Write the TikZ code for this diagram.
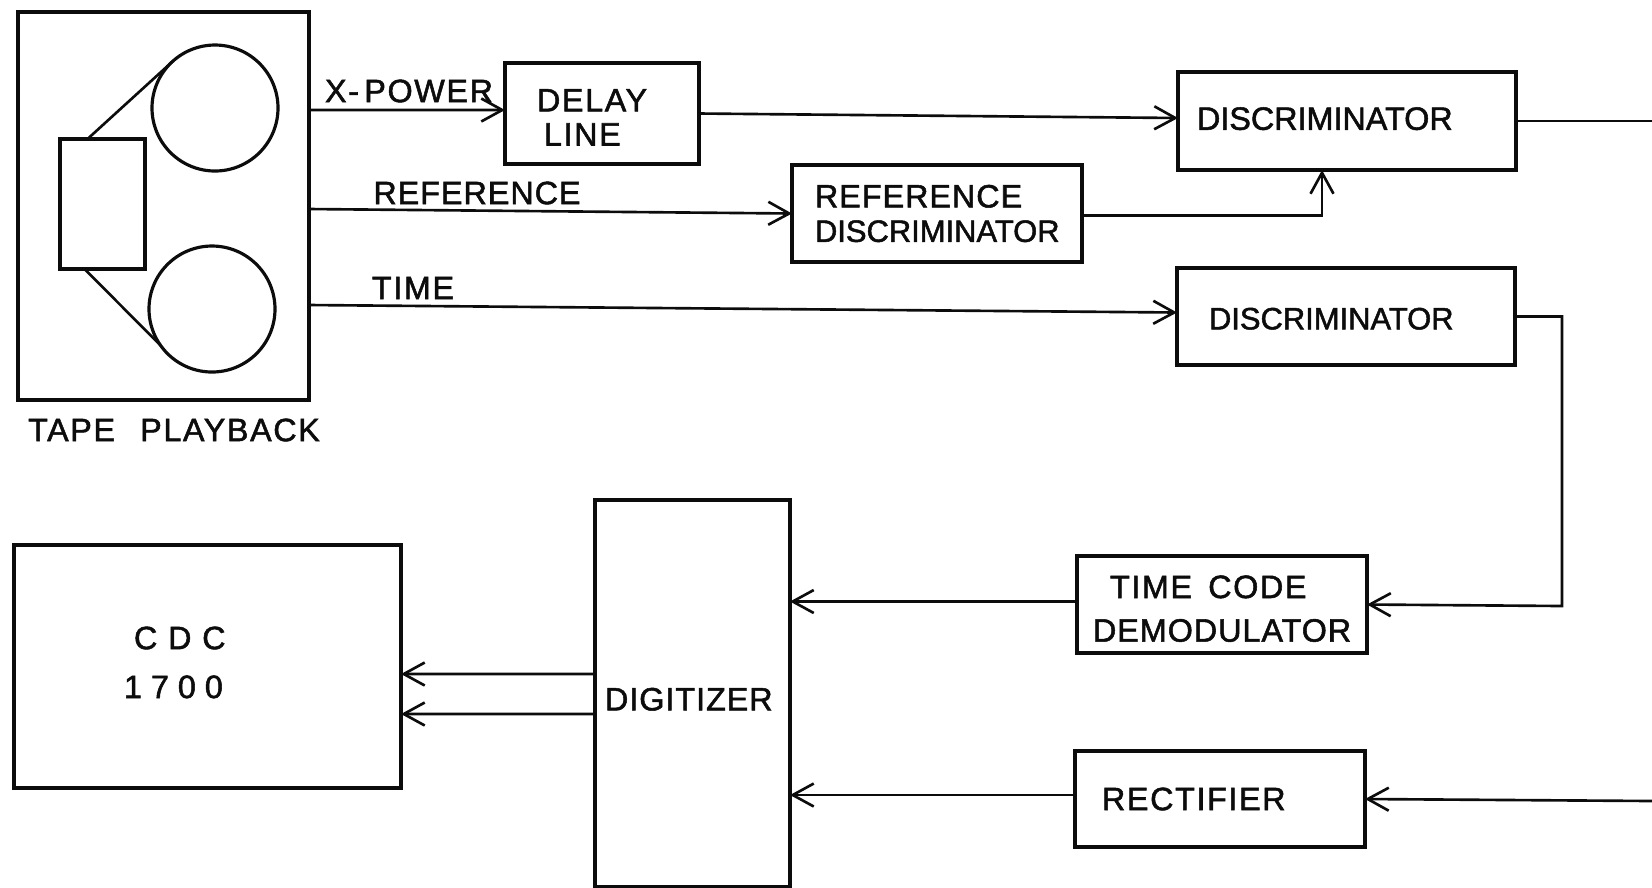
\documentclass[tikz,border=0pt]{standalone}
\usepackage{fontspec}
\setmainfont{Liberation Sans}[RawFeature={embolden=1.6}]
\newfontfamily\widefont{Liberation Sans}[LetterSpace=5,RawFeature={embolden=1.6}]
\newfontfamily\midfont{Liberation Sans}[LetterSpace=3,RawFeature={embolden=1.6}]
\usepackage{xcolor}
\usetikzlibrary{arrows.meta}
\newcommand{\lowr}[1]{\rule{0pt}{#1}}
\definecolor{inkline}{RGB}{12,12,12}

\begin{document}
\begin{tikzpicture}[x=0.1mm,y=-0.1mm,font=\fontsize{9.2}{11}\selectfont,
   blockb/.style={draw=inkline,line width=0.9pt,outer sep=0pt,inner ysep=0pt,align=left,text=inkline},
   reelb/.style={draw=inkline,line width=0.9pt,circle,outer sep=0pt,inner sep=0pt},
   lab/.style={inner sep=0pt,text=inkline},
   ln/.style={inkline,line width=0.75pt},
   ar/.style={ln,-{Straight Barb[length=2.1mm,width=2.3mm,line width=0.75pt]}}]
\useasboundingbox (0,0) rectangle (1652,887);

% tape playback
\node[blockb,minimum width=2.91cm,minimum height=3.88cm] (tape) at (163.5,206) {};
\node[blockb,minimum width=0.85cm,minimum height=1.3cm] (gate) at (102.5,204) {};
\node[reelb,minimum size=1.26cm] (reela) at (215,108) {};
\node[reelb,minimum size=1.26cm] (reelb) at (212,309) {};
\draw[ln] ([xshift=-1.5mm]gate.north) -- (reela.132);
\draw[ln] ([xshift=-1.8mm]gate.south) -- (reelb.215);
\node[lab,font=\fontsize{9.2}{11}\widefont] (tapelab) at (174,430) {TAPE\;\enspace PLAYBACK};

% upper row
\node[blockb,minimum width=1.94cm,minimum height=1.01cm,text width=1.3cm,inner xsep=3.2mm] (delay) at (602,113.5)
   {\lowr{8.5pt}\widefont DELAY\\[-1.3pt]\hspace*{0.7mm}LINE};
\node[blockb,minimum width=2.9cm,minimum height=0.97cm,text width=2.44cm,inner xsep=2.3mm] (refdisc) at (937,213.5)
   {{\midfont REFERENCE}\\[-1.2pt]{\fontsize{8.8}{11}\selectfont DISCRIMINATOR}};
\node[blockb,minimum width=3.38cm,minimum height=0.98cm,text width=3.0cm,inner xsep=1.9mm] (disca) at (1347,121)
   {\raisebox{0.5mm}{DISCRIMINATOR}};
\node[blockb,minimum width=3.38cm,minimum height=0.97cm,text width=2.74cm,inner xsep=3.2mm] (discb) at (1346,316.5)
   {\lowr{7.4pt}\fontsize{8.8}{11}\selectfont DISCRIMINATOR};

% lower row
\node[blockb,minimum width=3.87cm,minimum height=2.43cm,text width=1.67cm,inner xsep=11mm,font=\fontsize{9.2}{11}\widefont] (cdc) at (207.5,666.5)
   {\raisebox{0.6mm}{\hspace*{1mm}C D C}\\[1.2pt]1\;7\;0\;0\rule[-2.4pt]{0pt}{0pt}};
\node[blockb,minimum width=1.95cm,minimum height=3.87cm,text width=1.75cm,inner xsep=1mm] (digit) at (692.5,693.5)
   {\lowr{9.7pt}\midfont DIGITIZER};
\node[blockb,minimum width=2.9cm,minimum height=0.97cm,text width=2.58cm,inner xsep=1.6mm] (tcode) at (1222,604.5)
   {\lowr{8.8pt}\hspace*{1.7mm}{\widefont TIME\enspace CODE}\\[1.4pt]{\midfont DEMODULATOR}};
\node[blockb,minimum width=2.9cm,minimum height=0.96cm,text width=2.36cm,inner xsep=2.7mm] (rect) at (1220,799) {\widefont RECTIFIER};

% free ends at the page edge
\coordinate (outa) at (1652,121);
\coordinate (outb) at (1652,801);
\coordinate (turn) at (1562,606);

% tape outputs
\draw[ar] ([yshift=9.6mm]tape.east) -- ([yshift=0.35mm]delay.west);
\draw[ar] ([yshift=-0.3mm]tape.east) -- (refdisc.west);
\draw[ar] ([yshift=-9.9mm]tape.east) -- ([yshift=0.4mm]discb.west);
\node[lab,font=\fontsize{9.2}{11}\widefont] (xlab) at (409,91) {X-\,POWER};
\node[lab,font=\fontsize{9.2}{11}\midfont] (reflab) at (477,193) {REFERENCE};
\node[lab,font=\fontsize{9.2}{11}\widefont] (timelab) at (413,288) {TIME};

% discriminators
\draw[ar] (delay.east) -- ([yshift=0.3mm]disca.west);
\draw[ar] ([yshift=-0.2mm]refdisc.east) -| ([xshift=-2.5mm]disca.south);
\draw[ln] (disca.east) -- (outa);
\draw[ar] (discb.east) -| (turn) -- (tcode.east);

% into the digitizer
\draw[ar] ([yshift=0.3mm]tcode.west) -- ([yshift=0.3mm]tcode.west -| digit.east);
\draw[ar] ([yshift=0.4mm]rect.west) -- ([yshift=0.4mm]rect.west -| digit.east);
\draw[ar] (outb) -- (rect.east);
\draw[ar] ([yshift=1.95mm]digit.west) -- ([yshift=-0.75mm]cdc.east);
\draw[ar] ([yshift=-2.05mm]digit.west) -- ([yshift=-4.75mm]cdc.east);
\end{tikzpicture}
\end{document}
